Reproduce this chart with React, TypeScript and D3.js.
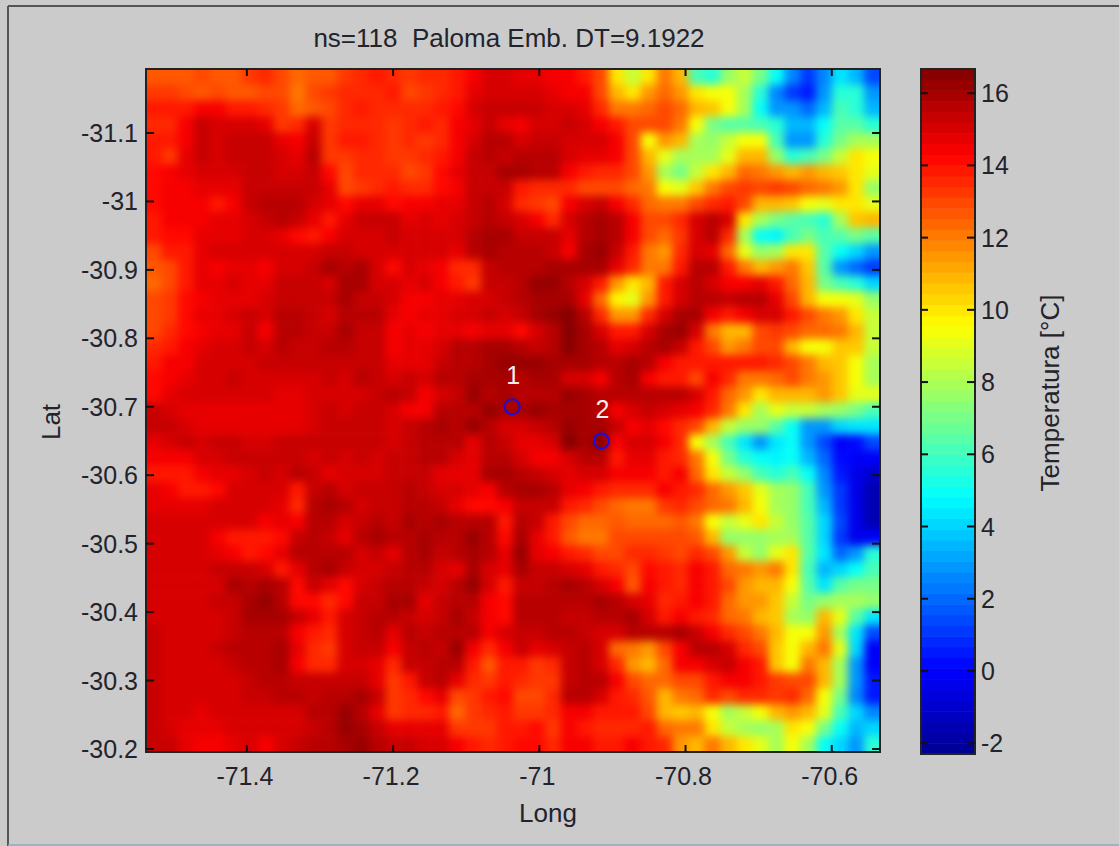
import React from "react";
import * as d3 from "d3";

const titleText = "ns=118  Paloma Emb. DT=9.1922";
const lonTicks = [-71.4, -71.2, -71, -70.8, -70.6];
const latTicks = [-31.1, -31, -30.9, -30.8, -30.7, -30.6, -30.5, -30.4, -30.3, -30.2];
const barTicks = [16, 14, 12, 10, 8, 6, 4, 2, 0, -2];
const stations = [
  { id: "1", lon: -71.037, lat: -30.7 },
  { id: "2", lon: -70.915, lat: -30.65 },
];

// West part of the map, °C, north row first
const westTemps = [
  [12.8,12.8,12.7,13,12.7,12.8,13.2,13.5,13,12.3,12.8,12.8,13.3,13.5,13.8,13.5,13.3,13.5,13.7,13.8,14.3,15,15,14.7,14.8,14.5],
  [13.3,13.3,13,12.7,13,12.7,12.6,13,13,12.1,13,13.3,13.7,13.7,13.7,14,13,13.3,13.7,13.8,14.8,15,15,15,15,14.8],
  [14,14,14,14.5,14.3,14,14,13.5,13.2,12.5,12.8,13,13.7,13.8,13.5,13.5,13.5,13.7,13.8,14.2,15,15.2,15.2,15.2,15.2,15],
  [13.5,13.7,14.3,15.3,15.1,15,15.1,14.7,13.3,13.5,15,13.3,13.6,13.7,13.5,13.3,13.5,13.8,13.5,14.5,14.8,15.2,14.8,14.3,15,15],
  [13.8,14,14.5,15.3,15.1,15.3,15.4,15.4,14.7,14.5,15.2,13.2,13.8,14,13.5,13.2,13.5,13.2,13.6,14.3,15,15.5,15.5,15,15.2,15.3],
  [13.8,13.3,14.7,15.3,15,15.2,15.2,15.3,14.9,14.6,15.5,13.2,13.3,13.7,13.5,13.3,13.4,13.7,14,14.5,15.2,15.5,15.3,15.5,15.5,15.5],
  [14.2,14.5,14.6,15,15,14.9,15.2,15.2,15,15,15.2,14.2,13,13.5,13.5,13.7,13,13.2,14.2,14.8,15.4,15.4,15.8,15.8,15.6,15.5],
  [14.2,14.3,14.5,14.8,14.6,14.8,15.2,15.2,15.3,15.3,15.2,14.7,13,13.3,13.7,13.8,13.6,13.7,14.2,14.5,15.2,15.4,15.3,14,13.7,13.7],
  [14.2,14.5,14.4,14.5,14,14.3,15.4,15.6,15.6,15.5,15,14.8,14.2,14.6,14.8,14.2,14.3,14.4,14.7,14.8,15.2,15.5,15,13.5,13.2,13],
  [13.8,14.4,14.5,14.5,14.6,14.7,15,15.2,15.7,15.2,14.7,14,14.8,15.2,15.3,15.2,14.8,14.9,14.8,14.9,15.2,15.5,15.2,14.9,14.5,13.6],
  [13.8,14.2,14.2,14.7,14.8,14.7,15.1,15,14.8,14.2,13.8,14.5,15,15,15,15.2,15,15,15,15,15.5,16,15.8,15.3,15.3,15.3],
  [13,13.8,14,14.8,15,14.9,15,15,15.1,15,15,15.3,15.4,15,15,15,15,15,15,14.8,15.5,15.8,15.6,15.6,15.6,15.3],
  [12.8,13,14,14.8,14.4,14.6,14.7,14.4,14.9,15,15.2,15.8,15.7,15.8,14.9,14.2,14.9,14.8,14.3,13.6,13.5,15.3,15.5,15.7,15.7,15.8],
  [12.5,13,14,14.8,14.7,15,14.8,14.7,15.2,15.2,15.2,15,16,16,15.1,14.9,14.7,14.9,14.5,14,13.2,15.2,15.3,15.5,16.3,16.2],
  [13,13.3,14.2,14.5,14.7,14.7,14.8,15,15.2,15.2,15.2,15.3,15.8,15.4,15.4,15.1,14.5,14.5,14.8,14.8,14.9,15,15.3,15.6,16,16],
  [13,13.3,14.2,14.6,14.8,15,15.2,15,15.7,15.6,15.4,15,15.6,15.7,15.6,14.6,14.5,14.7,14.7,15,15,15.2,15,15.2,15.8,16.3],
  [13,13.5,14.2,14.5,14.8,14.8,15.2,14.5,15.7,15.5,15.2,15.2,15.8,15.3,15.2,14.5,14.7,14.5,14.7,14.8,14.5,14.8,14.8,14.2,15,15.5],
  [13.5,14,14.3,14.7,14.9,15,15.2,15.1,15.6,15.4,15.4,15.6,15.5,15.4,15.2,14.5,14.8,14.7,14.9,15.5,15.7,16,15.8,15.5,15.3,15.5],
  [14,14.5,14.5,15,15,15,15.1,15.2,15.2,15.4,15.2,15.3,15.2,15.2,15.2,14.6,14.7,14.7,15.2,15.7,15.5,15.8,16.2,16.3,16.3,16],
  [14.2,14.5,14.8,15,15,15.2,15,15,15,14.9,15,15.2,15,15.6,15.3,15,15.2,14.9,15.7,15.6,15.8,15.8,15.9,15.7,16,15.8],
  [14.2,14.7,14.9,15,15,15,15,14.9,14.8,14.8,15,15,15,15,15.3,15.5,15.2,14.5,14.9,15.4,16.1,15.5,16,15.5,15.6,15.5],
  [15.2,15,14.7,14.8,14.8,14.8,14.8,14.8,14.8,14.8,15.1,15.2,15.1,15.2,15.2,15,14.5,14.3,15.6,15.6,15.6,16.2,15.8,15.8,16.2,16],
  [15.2,15.3,15,14.8,14.6,14.8,14.6,14.7,14.7,14.8,15,15.3,15.2,15.2,15.3,15.1,15.3,15.6,15.8,15.7,16.2,15.7,15,15,15.3,15.5],
  [14.7,15.1,15.3,15.1,15.3,15.2,15.1,15.1,15.2,15.2,15.3,15.3,15.2,15.3,15.2,15.1,15.2,15.6,15.7,15.7,14.8,15.6,15.2,14.7,14.8,15],
  [14.4,14.3,14.3,14.9,15.1,15.2,15.2,15.4,15.4,15.2,15,15.3,15.1,15.2,15.1,15.2,15.4,15.5,15.5,15.1,14.6,15.7,15.5,15,14.5,14.3],
  [13.8,14,14,14.3,14.7,14.7,15,15.2,15.1,15.6,15.2,14.7,15,15.1,15.1,15.4,15.4,15.4,14.6,14.8,14.7,15.8,16,15.6,15.3,15],
  [14.7,14.3,14,14,14.2,14.9,15,15.1,15,13.9,15.4,15.7,15.1,15.2,15.3,15.3,15.5,15.4,15,15,14.6,14.5,15.6,15.8,15.8,15.5],
  [14.8,14.8,14.7,14.7,14.9,15,15,15,14.8,13.5,15.5,15.8,15.5,15,15.3,15.3,15.5,15.6,15.3,14.8,14.2,14.2,14.5,15.2,15.2,15.4],
  [15,15,15,15,15,15,15,14.5,14.8,14.5,15.7,15.7,15,15.4,15.7,15.4,15.8,15.6,15.8,15.5,15.6,15.7,14,15.6,15.4,14],
  [15,15,15,15,14.4,14,13.8,14,14.2,15.3,15.6,15.3,14.8,15.7,16,15.7,15.5,15.8,15.7,15.5,16.2,15.5,14.2,15.8,14.8,14],
  [15,15,15,15,14.6,14.3,13.8,14.2,14.8,15.6,15.6,15.6,15.6,15,15.2,14.8,15.7,15.8,15.4,15.6,16,15.6,14.6,16.3,14.7,14.5],
  [15,15,15,15.1,15.4,15.4,15.4,14.9,13.8,14.6,15.5,15.8,15.3,15,15,15.4,15.6,15.6,15.1,14.7,15.8,15,14.8,15.8,15.4,15.3],
  [15,15,15,15,15,15.8,15.6,15.9,15.5,14.2,15.2,14.8,14.2,15.1,15.4,15.6,15.6,15.3,14.9,15.7,16.1,14.9,14,15.2,15.4,15.6],
  [15,15,15,15,15.2,15.4,15.9,16.1,15.6,14.2,14.2,13.7,14.2,15.3,15.4,15.8,15.8,14.6,15.3,15.6,15.7,14.5,14.2,15.5,15.6,15.5],
  [15,15,15,15,15.1,15.3,15.8,16,15.8,15.4,14.6,14,15,15.3,15.5,15.7,15.4,15.1,15.4,15.8,15.3,14.3,14.1,15.5,15.6,15.5],
  [15.2,15,15,15,15.1,15.4,15.5,15.7,15.5,14.4,13.9,13.5,15,15.4,15.5,14.6,15.5,15.4,15.5,15.7,15.5,14.5,15,15.2,15.4,15.5],
  [15.3,15,15,15,15.2,15.5,15.5,15.5,15.8,14.6,13.6,13.2,15,15.3,15.2,14.3,15.4,15.5,15.3,16.1,14.5,13.5,14.5,15.2,14.8,15.1],
  [15.3,15,15,15,15,15.2,15.5,15.7,15.8,14.5,13.5,13.6,15,15,14.8,13.5,15.2,15.4,15.6,15.7,14,12.8,13.8,14,13.3,13.6],
  [15.3,15.1,15,15,15,15,15.3,15.5,15.5,15.3,15.2,15.4,15.4,15.2,14.8,13.2,14,15.2,15.6,14.6,13.5,13.3,13.8,13.5,13.3,13.3],
  [15.3,15,15,15,15,15,15.2,15.4,15.6,15.6,15.4,15.6,15.7,15.8,15.2,13.3,13.6,14.2,14.8,13,13.3,13.8,14.2,13,13,13.5],
  [15.3,14.9,15,14.8,14.9,15,15.1,15,15.1,15,15.5,15.5,16.2,15.7,14.8,13.2,13.5,13.6,13.8,12.3,13.3,13.6,14,13.3,13.2,13.5],
  [15.2,15,14.8,14.6,14.8,15,15,15,15,15.1,15.4,15.5,16.2,16,15.3,14.7,14.8,14.7,14.6,13.2,13.3,13.3,13.9,14,14.2,13.3],
  [15.3,15.2,14.6,14.5,14.5,14.6,14.9,14.4,15,15.2,15.5,15.7,16,16.2,15.7,15.3,15.2,15,14.9,14.3,13.9,13.7,13.8,14.2,14.2,13.6],
];

// East part of the map, °C, north row first
const eastTemps = [
  [14.3,14,13,10,8.5,10,12,11,6,5.5,7.5,8.5,7,5,2.5,1,2.5,4.5,3.5,1.5],
  [14.5,14.3,13,11,10,11.5,12.5,11.5,10,9.5,9.5,8,5.5,2.5,1,0.5,3,5.5,5.5,3],
  [15,14.7,13.5,12,12,12.5,13,12.5,11,10.5,9.5,8,5,3,3,2,3.5,6,5.5,3.5],
  [15.2,15,14.5,14,13,13,13,12,9.5,7,6.5,6.5,6,5.5,3.5,3.5,5,6.5,6.5,5.5],
  [15,15,15,14.5,13,9.5,11.5,11,8,7.5,8.5,9.5,9.5,6,3,3,5.5,7,8,8],
  [15,14.8,14.7,14.5,13,11,9,8,8,8,9,11,11,7.5,5.5,6,7,8.5,10,9.5],
  [14.3,14,13.5,13.5,13,11.5,8,7,8.5,10,11,12.5,12,11.5,11,11.5,11,10.5,10,9],
  [13.5,13,13,13,12.5,12,9.5,9,10.5,12,13,13.3,13,13.3,13,12.5,12,11.5,10,7.5],
  [14.5,15,15.3,14.5,13.5,12.5,12,12,13,13.7,14,13,11,11,10.5,9.5,9,10,10,9],
  [15,15.5,15.8,15.5,14.5,13,13,13.5,15,15.5,15,10,8,7,6.5,6,5.5,8,10.5,11],
  [14.8,15.5,16,15.5,14.5,13,12.5,13.3,15,15.5,13.5,8,5,4.7,6,7,6,6.5,7,6.5],
  [14.5,15.8,16.2,15.3,14,12,11.5,13.5,15,14.8,12.5,9,7.5,8,10,10,6.5,5,4,3],
  [16,16,15.8,14.8,13.5,12,12,14,15.5,15.5,14,12,11,11.5,12,10.5,6.5,3,2,1],
  [15.5,15,14,11.5,10,11,13.8,15,15.5,15,14.5,14.5,14.8,14,12.5,11,7,6,5.5,4],
  [15.8,14.7,12.5,9.8,9,11.5,14,15,15.6,15.6,15.3,15.5,15.5,14.8,13,11,9.5,9.5,9,7.5],
  [16.4,15.5,13.5,11.5,11.5,13.5,15,15.9,16,14.5,14,14.3,15,15,14,13,12,11.5,10,8.5],
  [16.5,16,15,14,14,15,15.8,16.2,15,12,10.8,11,13,13.3,13,12.5,12.5,12,11,8.5],
  [16.5,16,15.5,14.8,15,15.5,15.8,15.3,14,13,11.5,12,13,13,11,9.5,9.5,10.5,10.5,8.5],
  [16,15.8,15.5,15.5,16,15.5,14.5,13.8,14,14,14,14,14,13.5,13,12,11,10.5,9.5,8],
  [15,15,14.5,15.5,16,14.5,14,14,13,14.3,13.5,12,12,12.3,13,12,11.5,10.5,9.5,8],
  [16.2,16,15.5,15.5,15.5,15.6,15.5,15.5,15,14,12.5,11.5,10,11,11,11,11.5,10.5,9,9],
  [16,16,15.5,14.5,15,15.3,15,14.8,14.5,13.5,12,10,8,9,8.5,8.5,8,7.5,7,6],
  [16.3,16,16,15.3,14.5,14.7,14.2,13.5,13,11,8.5,7.5,7.5,6.5,5,3,3,4,4.5,4.5],
  [16.4,16,16.5,14.5,15,15,14.5,13.5,9.5,8,6,4.5,3,4.5,5,3,1.5,0,0.2,1.5],
  [15,15.5,15.5,14,14.8,14.7,14,13.5,12,9.5,7,5.5,5,4.8,5,3.5,2,0.2,0,0],
  [14.8,15,15,14.5,14.5,14.5,14,14.3,12.5,10,8.5,7.5,6,5.5,6,5,2.5,0.5,-0.5,-1],
  [14.8,14.5,14,13.5,13.5,13.5,14.3,13.8,13.5,12.5,11.5,10.5,9,8,7.5,6,3,1,-0.5,-1.5],
  [13.8,13.5,13,12.5,12,12.2,13.2,13.5,13,12.5,12,11,9.5,8,7.5,6,3.5,1,-0.5,-1.5],
  [13,12.5,12.5,12.8,12.5,12.5,12.5,12.8,12,9.5,8.5,9,10,8.5,7.5,6.5,4,1.5,-0.5,-1.5],
  [12.8,12,12,13,13,13,13,13,12.8,11,7.5,7.5,7.5,8,8,6.5,4,1,-0.5,0],
  [14,13.5,13,13,13.5,13.5,13.3,13,13.5,13,11.5,8.5,7.5,9,10,6.5,4.5,2,3,5.5],
  [15,14.7,14,13.5,13,14.2,14,13.5,14.3,13.8,12.5,12,11.5,12,10,6,3.5,4,5,6],
  [15.8,15.5,15,14.5,12.8,14.5,14,13.5,14.5,14,13,11.5,11,11,9.5,6.5,4.5,6.5,7,7],
  [15.5,15.6,16,15.5,15,14.7,13.5,14,14.3,14,12.5,11.5,11.5,10.5,8.5,7,7.5,8,8,7.5],
  [15.2,15.3,15.5,15.6,16,15,14,14.5,14,13.5,12.5,12,11,10.5,8,7.5,11,9,6.5,4.5],
  [15.5,15.2,15,15,15.5,15.5,15.5,15.8,15.2,14.5,13.5,13,12,11,9.5,9.5,11.5,8,4.5,1.5],
  [15.3,15.5,15,12.5,12,11.5,13,14.5,15.5,15.5,15,13.5,13,10.5,9.5,11,12,9,4,0],
  [15.3,15.5,15,13.5,11.5,11,12.5,14.5,14.5,15,15.2,14.5,14,10.5,9.5,12,11,8,3,0],
  [15.3,15.5,15.5,14.5,13,12.5,12.5,13,13,14,14.5,14.3,14,13.3,13,13,11,8,3,0.5],
  [15.5,15.5,15,14,13.5,12.8,11,12,12.5,13.5,13,13.5,13.5,13.2,13.5,12.5,9.5,7,2.5,0.5],
  [14.5,14.5,14,14,13.8,13,11,10.5,11,9.5,8,8.5,9.5,11,11.5,11,9,6,4,2.5],
  [14.3,14,13.5,13.5,13.5,13.8,12.5,12,12,10,8.5,8,7.5,8,10,9.5,7,5,3.5,4],
  [14.5,14.3,14,14,14.3,14,13.5,11.5,11,12,11,10,9,8,9.5,8,5,4,3,5.5],
];

const tempRows = westTemps.map((row, i) => row.concat(eastTemps[i]));

const W = 1119, H = 846;
const plot = { x0: 146, x1: 880, y0: 69, y1: 752 };
const bar = { x0: 921, x1: 975, y0: 69, y1: 754 };
const tempMin = -2.3, tempMax = 16.67;
const lonExtent: [number, number] = [-71.538, -70.534];
const latExtent: [number, number] = [-31.1935, -30.1956];

const jetStops = d3
  .scaleLinear<string>()
  .domain([0, 0.125, 0.375, 0.625, 0.875, 1])
  .range(["#00008f", "#0000ff", "#00ffff", "#ffff00", "#ff0000", "#800000"])
  .clamp(true);
const colorOf = (v: number) => {
  const t = (v - tempMin) / (tempMax - tempMin);
  const idx = Math.min(63, Math.max(0, Math.floor(t * 64)));
  return jetStops((idx + 0.5) / 64);
};

const FONT = "'Liberation Sans', Arial, sans-serif";
const INK = "#23232b";
const TICK_FS = 25;
const LABEL_FS = 26;
const BLEED = 14;

export default function App() {
  const x = d3.scaleLinear().domain(lonExtent).range([plot.x0, plot.x1]);
  const y = d3.scaleLinear().domain(latExtent).range([plot.y0, plot.y1]);
  const nCols = tempRows[0].length, nRows = tempRows.length;
  const cols = d3.scaleBand<number>().domain(d3.range(nCols)).range([plot.x0, plot.x1]);
  const rows = d3.scaleBand<number>().domain(d3.range(nRows)).range([plot.y0, plot.y1]);
  const barY = d3.scaleLinear().domain([tempMax, tempMin]).range([bar.y0, bar.y1]);
  const levels = d3.range(64).map((i) => tempMin + ((i + 0.5) / 64) * (tempMax - tempMin));
  const levelH = (bar.y1 - bar.y0) / 64;

  return (
    <svg
      width={W}
      height={H}
      viewBox={`0 0 ${W} ${H}`}
      style={{ position: "absolute", left: 0, top: 0, display: "block" }}
      fontFamily={FONT}
    >
      <defs>
        <clipPath id="plotClip">
          <rect x={plot.x0} y={plot.y0} width={plot.x1 - plot.x0} height={plot.y1 - plot.y0} />
        </clipPath>
        <filter
          id="soft"
          filterUnits="userSpaceOnUse"
          x={plot.x0 - BLEED * 2}
          y={plot.y0 - BLEED * 2}
          width={plot.x1 - plot.x0 + BLEED * 4}
          height={plot.y1 - plot.y0 + BLEED * 4}
          colorInterpolationFilters="sRGB"
        >
          <feGaussianBlur stdDeviation="4.2" />
        </filter>
      </defs>
      <rect x={0} y={0} width={W} height={H} fill="#cbcbcb" />
      <line x1={8} y1={6} x2={W} y2={6} stroke="#555" strokeWidth={2} />
      <line x1={8} y1={6} x2={8} y2={H} stroke="#555" strokeWidth={2} />
      <line x1={8} y1={845} x2={W} y2={845} stroke="#8fa9c6" strokeWidth={1.5} />

      <text x={509} y={47} textAnchor="middle" fontSize={LABEL_FS} fill={INK} style={{ whiteSpace: "pre" }}>
        {titleText}
      </text>

      <g clipPath="url(#plotClip)">
        <g filter="url(#soft)">
          {tempRows.map((row, j) =>
            row.map((v, i) => {
              const left = i === 0 ? BLEED : 0;
              const right = i === nCols - 1 ? BLEED : 0.6;
              const top = j === 0 ? BLEED : 0;
              const bottom = j === nRows - 1 ? BLEED : 0.6;
              return (
                <rect
                  key={`${i}-${j}`}
                  x={(cols(i) as number) - left}
                  y={(rows(j) as number) - top}
                  width={cols.bandwidth() + left + right}
                  height={rows.bandwidth() + top + bottom}
                  fill={colorOf(v)}
                />
              );
            })
          )}
        </g>
      </g>

      {stations.map((s) => (
        <g key={s.id}>
          <circle cx={x(s.lon)} cy={y(s.lat)} r={7.5} fill="none" stroke="#1410e0" strokeWidth={2} />
          <text x={x(s.lon) + 1} y={y(s.lat) - 23} textAnchor="middle" fontSize={TICK_FS} fill="#f4eeee">
            {s.id}
          </text>
        </g>
      ))}

      <rect x={plot.x0} y={plot.y0} width={plot.x1 - plot.x0} height={plot.y1 - plot.y0} fill="none" stroke="#222" strokeWidth={2} />

      {lonTicks.map((t) => (
        <g key={t}>
          <line x1={x(t)} x2={x(t)} y1={plot.y0} y2={plot.y0 + 7} stroke="#111" strokeWidth={2} />
          <line x1={x(t)} x2={x(t)} y1={plot.y1} y2={plot.y1 - 7} stroke="#111" strokeWidth={2} />
          <text x={x(t) - 2} y={785} textAnchor="middle" fontSize={TICK_FS} fill={INK}>
            {String(t)}
          </text>
        </g>
      ))}
      {latTicks.map((t) => (
        <g key={t}>
          <line x1={plot.x0} x2={plot.x0 + 8} y1={y(t)} y2={y(t)} stroke="#111" strokeWidth={2} />
          <line x1={plot.x1} x2={plot.x1 - 8} y1={y(t)} y2={y(t)} stroke="#111" strokeWidth={2} />
          <text x={138} y={y(t) + 9} textAnchor="end" fontSize={TICK_FS} fill={INK}>
            {String(t)}
          </text>
        </g>
      ))}

      <text x={548} y={822} textAnchor="middle" fontSize={LABEL_FS} fill={INK}>Long</text>
      <text transform="translate(60,422) rotate(-90)" textAnchor="middle" fontSize={LABEL_FS} fill={INK}>Lat</text>

      {levels.map((v, i) => (
        <rect
          key={i}
          x={bar.x0}
          y={barY(v) - levelH / 2}
          width={bar.x1 - bar.x0}
          height={levelH + 0.5}
          fill={colorOf(v)}
        />
      ))}
      <rect x={bar.x0} y={bar.y0} width={bar.x1 - bar.x0} height={bar.y1 - bar.y0} fill="none" stroke="#222" strokeWidth={2} />
      {barTicks.map((t) => (
        <g key={t}>
          <line x1={bar.x0} x2={bar.x0 + 7} y1={barY(t)} y2={barY(t)} stroke="#111" strokeWidth={2} />
          <line x1={bar.x1} x2={bar.x1 - 8} y1={barY(t)} y2={barY(t)} stroke="#111" strokeWidth={2} />
          <text x={981} y={barY(t) + 9} textAnchor="start" fontSize={TICK_FS} fill={INK}>
            {String(t)}
          </text>
        </g>
      ))}
      <text transform="translate(1059,393) rotate(-90)" textAnchor="middle" fontSize={LABEL_FS} fill={INK}>
        Temperatura [°C]
      </text>
    </svg>
  );
}
